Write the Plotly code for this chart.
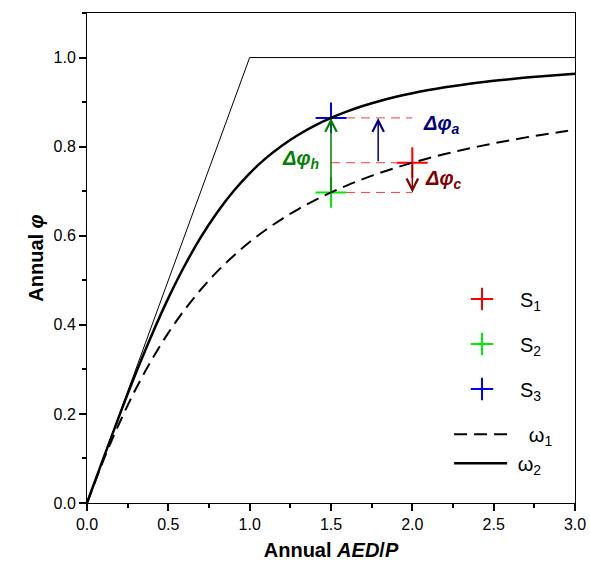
import plotly.graph_objects as go

# Annual aridity index (AED/P) sample points
aridity = [0.0, 0.1, 0.2, 0.3, 0.4, 0.5, 0.6, 0.7, 0.8, 0.9, 1.0,
           1.1, 1.2, 1.3, 1.4, 1.5, 1.6, 1.7, 1.8, 1.9, 2.0,
           2.1, 2.2, 2.3, 2.4, 2.5, 2.6, 2.7, 2.8, 2.9, 3.0]

# Evaporative index along the omega_1 curve (dashed)
phi_w1 = [0.0, 0.0950, 0.1802, 0.2560, 0.3230, 0.3820, 0.4338, 0.4793, 0.5194, 0.5546, 0.5858,
          0.6134, 0.6380, 0.6599, 0.6795, 0.6972, 0.7132, 0.7277, 0.7409, 0.7529, 0.7639,
          0.7741, 0.7834, 0.7920, 0.8000, 0.8074, 0.8143, 0.8208, 0.8268, 0.8324, 0.8377]

# Evaporative index along the omega_2 curve (solid)
phi_w2 = [0.0, 0.0997, 0.1973, 0.2911, 0.3791, 0.4600, 0.5326, 0.5967, 0.6522, 0.6998, 0.7401,
          0.7741, 0.8027, 0.8268, 0.8472, 0.8645, 0.8791, 0.8917, 0.9025, 0.9118, 0.9199,
          0.9270, 0.9332, 0.9386, 0.9434, 0.9477, 0.9515, 0.9550, 0.9581, 0.9609, 0.9634]

# Energy / water limits
limit_x = [0.0, 1.0, 3.0]
limit_y = [0.0, 1.0, 1.0]

# Three states
state_names = ["S<sub>1</sub>", "S<sub>2</sub>", "S<sub>3</sub>"]
state_x = [2.0, 1.5, 1.5]
state_y = [0.7639, 0.6972, 0.8645]
state_colors = ["#ff0000", "#00ee00", "#0000ff"]

FONT = "Liberation Sans, Arial, sans-serif"

fig = go.Figure()

fig.add_trace(go.Scatter(x=limit_x, y=limit_y, mode="lines",
                         line=dict(color="black", width=1), showlegend=False,
                         hoverinfo="skip"))

# dashed guides between the states
guide_color = "#ff3a3a"
for yy in state_y:
    fig.add_trace(go.Scatter(x=[state_x[1], state_x[0]], y=[yy, yy], mode="lines",
                             line=dict(color=guide_color, width=1, dash="9px,6px"),
                             showlegend=False, hoverinfo="skip"))

for i in range(3):
    fig.add_trace(go.Scatter(x=[state_x[i]], y=[state_y[i]], mode="markers",
                             name=state_names[i], legendgroup="s%d" % i, legend="legend",
                             marker=dict(symbol="cross-thin", size=22,
                                         line=dict(color=state_colors[i], width=2))))

fig.add_trace(go.Scatter(x=aridity, y=phi_w1, mode="lines", name="   ω<sub>1</sub>",
                         line=dict(color="black", width=2, dash="13px,7px", shape="spline"),
                         legendgroup="w1", legend="legend2"))
fig.add_trace(go.Scatter(x=aridity, y=phi_w2, mode="lines", name=" ω<sub>2</sub>",
                         line=dict(color="black", width=2.5, shape="spline"),
                         legendgroup="w2", legend="legend2"))

# change arrows
arrows = [
    (1.5, state_y[1], 1.5, state_y[2], "#008000"),
    (1.79, state_y[0], 1.79, state_y[2], "#000080"),
    (2.0, state_y[0], 2.0, state_y[1], "#800000"),
]
for tx, ty, hx, hy, col in arrows:
    fig.add_annotation(x=hx, y=hy, ax=tx, ay=ty, xref="x", yref="y", axref="x", ayref="y",
                       text="", showarrow=True, arrowhead=5, arrowsize=1.5,
                       arrowwidth=1.5, arrowcolor=col, standoff=0)

labels = [
    (1.31, 0.771, "h", "#008000"),
    (2.18, 0.849, "a", "#000080"),
    (2.19, 0.726, "c", "#800000"),
]
for lx, ly, sub, col in labels:
    fig.add_annotation(x=lx, y=ly, xref="x", yref="y", showarrow=False,
                       text="<b><i>Δφ</i></b><sub><b><i>%s</i></b></sub>" % sub,
                       font=dict(family=FONT, size=20, color=col))

axis_common = dict(showline=True, linecolor="black", linewidth=1, mirror=True,
                   ticks="outside", ticklen=7, tickwidth=1.5, tickcolor="black",
                   showgrid=False, zeroline=False, automargin=False,
                   tickfont=dict(family=FONT, size=16, color="black"))

fig.update_xaxes(range=[0, 3], tick0=0, dtick=0.5, tickformat=".1f",
                 minor=dict(ticks="outside", ticklen=4, dtick=0.25, tickcolor="black"),
                 title=dict(text="<b>Annual <i>AED</i>/<i>P</i></b>",
                            font=dict(family=FONT, size=20, color="black"), standoff=10),
                 **axis_common)
fig.update_yaxes(range=[0, 1.1], tick0=0, dtick=0.2, tickformat=".1f",
                 minor=dict(ticks="outside", ticklen=4, dtick=0.1, tickcolor="black"),
                 title=dict(text="<b>Annual <i>φ</i></b>",
                            font=dict(family=FONT, size=20, color="black"), standoff=4),
                 **axis_common)

fig.update_layout(
    width=590, height=573,
    margin=dict(l=87, r=15, t=13, b=70, autoexpand=False),
    plot_bgcolor="white", paper_bgcolor="white",
    legend=dict(x=0.7316, y=0.456, xanchor="left", yanchor="top", itemwidth=66,
                bgcolor="rgba(0,0,0,0)", tracegroupgap=16,
                font=dict(family=FONT, size=20, color="black")),
    legend2=dict(x=0.742, y=0.18, xanchor="left", yanchor="top", itemwidth=53,
                 bgcolor="rgba(0,0,0,0)", tracegroupgap=0,
                 font=dict(family=FONT, size=20, color="black")),
)

fig.write_html("out.html")
